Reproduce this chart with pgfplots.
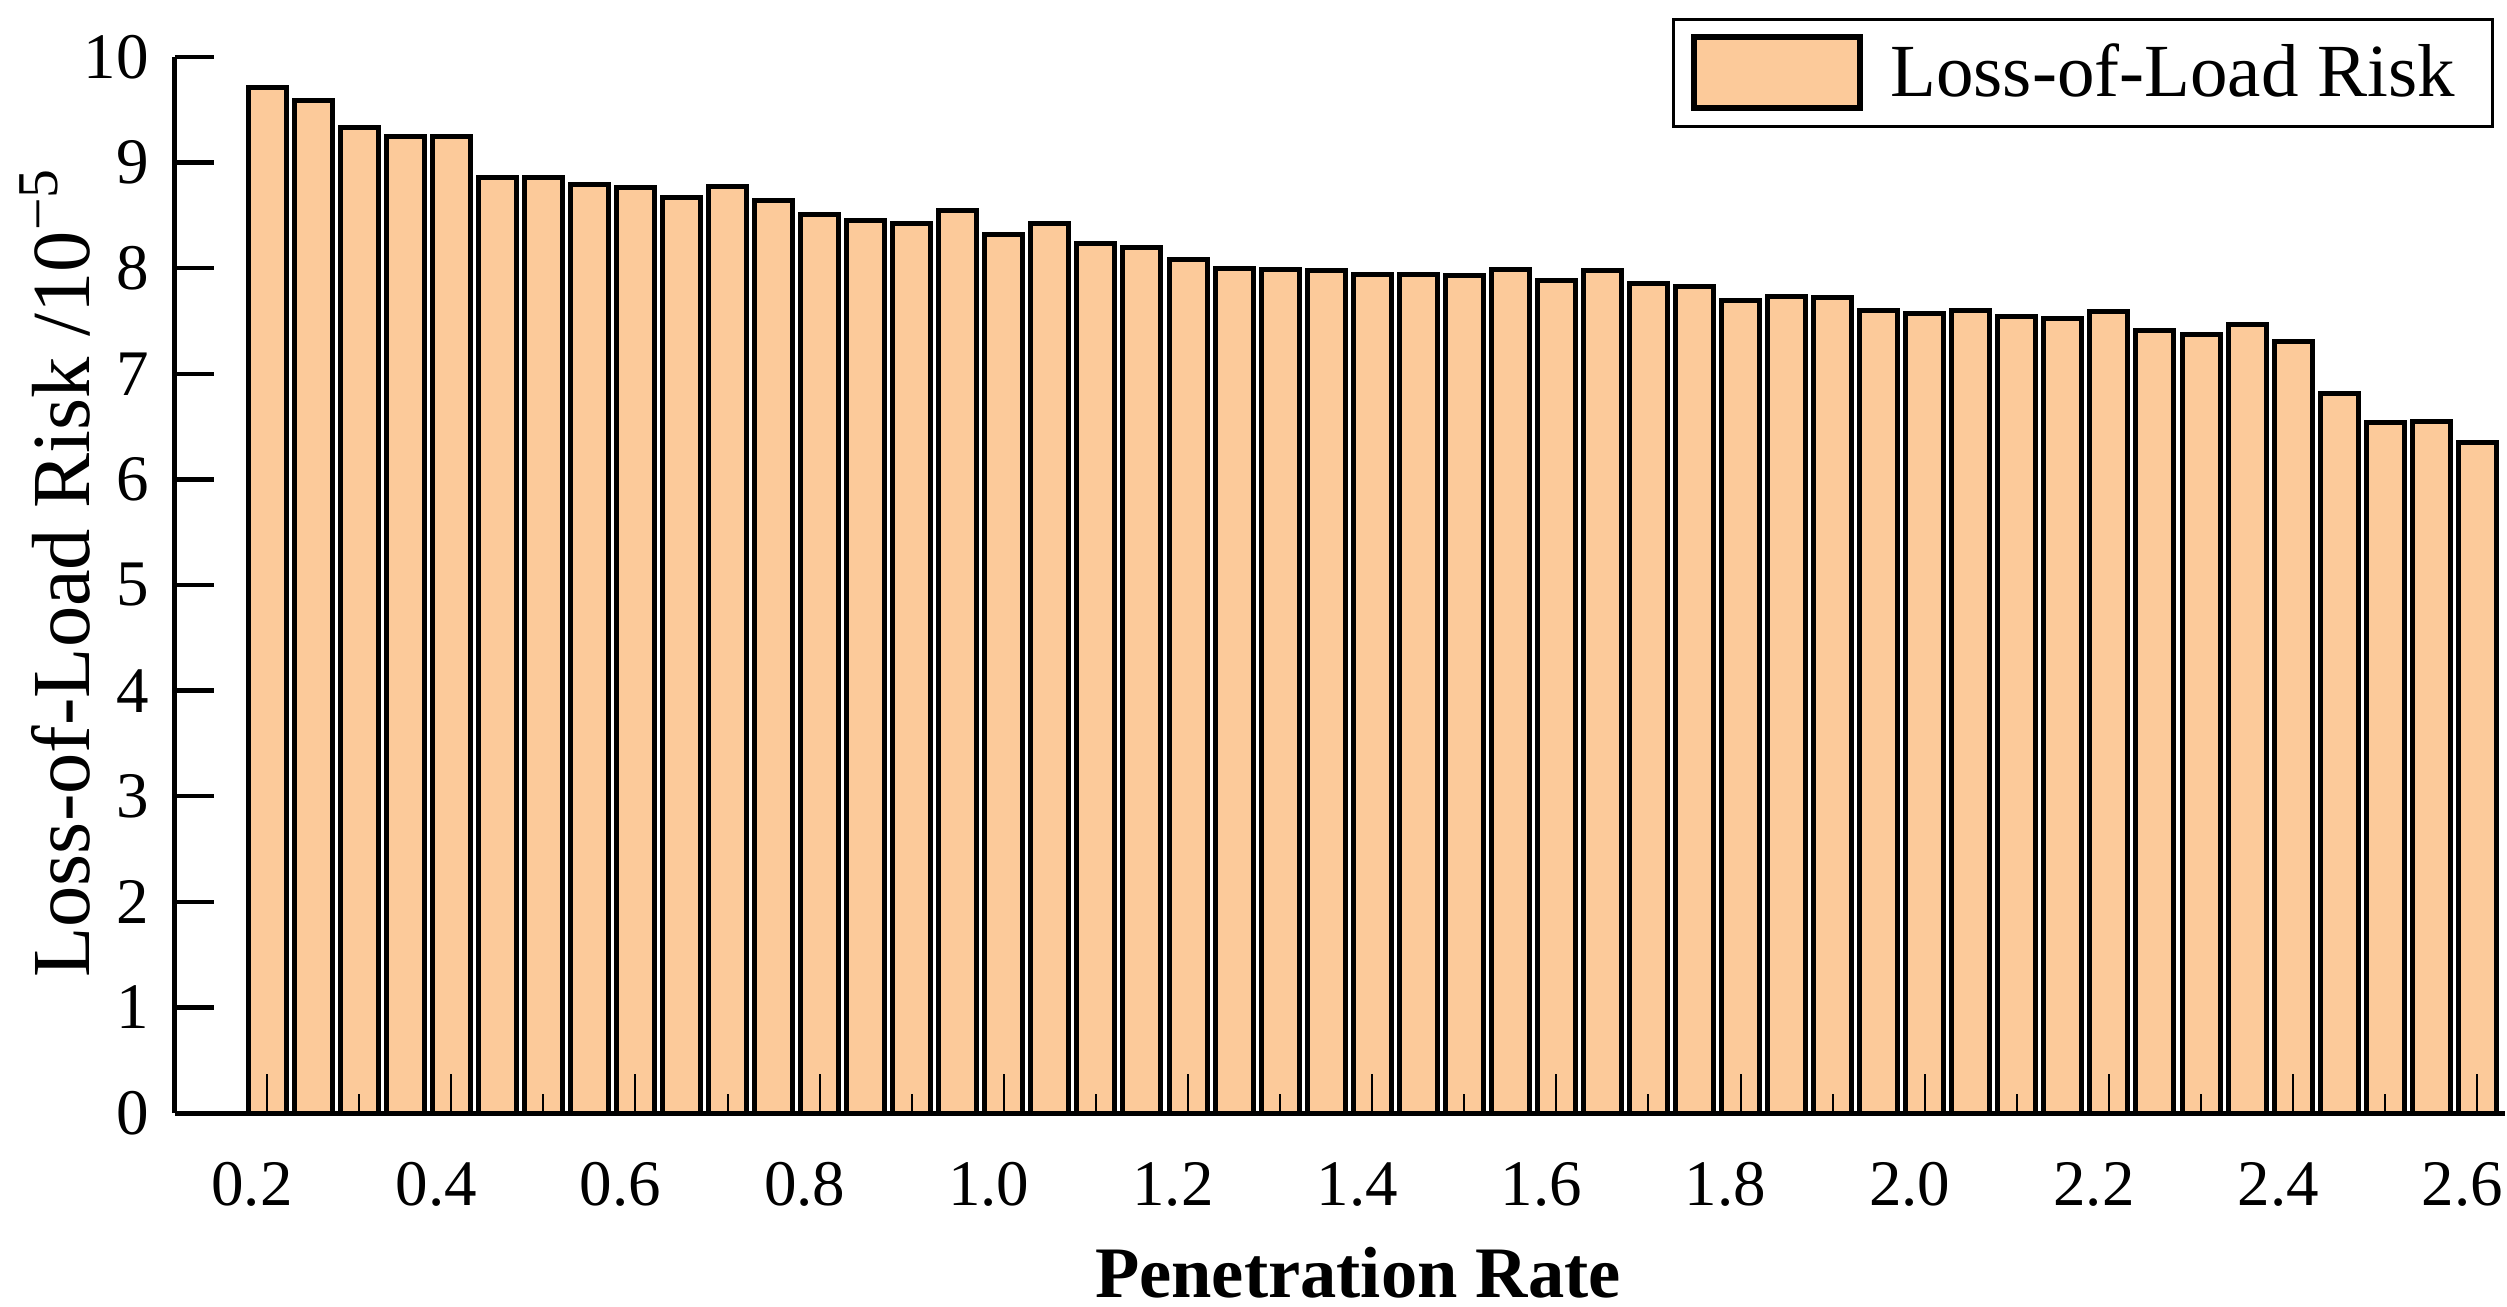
\documentclass[border=0pt]{standalone}
\usepackage{fontspec}
\setmainfont{Liberation Serif}
\usepackage{pgfplots}
\pgfplotsset{compat=1.18}
\usepackage{pgfplotstable}
\definecolor{barfill}{RGB}{252,202,154}

\pgfplotstableread{
rate risk
0.20 9.71
0.25 9.59
0.30 9.33
0.35 9.25
0.40 9.25
0.45 8.86
0.50 8.86
0.55 8.79
0.60 8.76
0.65 8.67
0.70 8.77
0.75 8.64
0.80 8.51
0.85 8.45
0.90 8.42
0.95 8.55
1.00 8.32
1.05 8.42
1.10 8.23
1.15 8.20
1.20 8.08
1.25 8.00
1.30 7.99
1.35 7.98
1.40 7.94
1.45 7.94
1.50 7.93
1.55 7.99
1.60 7.88
1.65 7.98
1.70 7.86
1.75 7.83
1.80 7.69
1.85 7.73
1.90 7.72
1.95 7.60
2.00 7.57
2.05 7.60
2.10 7.54
2.15 7.52
2.20 7.59
2.25 7.41
2.30 7.37
2.35 7.47
2.40 7.31
2.45 6.81
2.50 6.54
2.55 6.55
2.60 6.35
}\riskdata

\begin{document}
\begin{tikzpicture}
\begin{axis}[
    width=466pt, height=211.2pt, scale only axis,
    xmin=0.1, xmax=2.63, ymin=0, ymax=10,
    axis x line*=bottom, axis y line*=left,
    axis line style={line width=1pt},
    axis on top,
    tick align=inside,
    xtick pos=bottom, ytick pos=left,
    xtick={0.2,0.4,...,2.61},
    minor xtick={0.3,0.5,...,2.51},
    ytick={0,1,...,10},
    major tick length=7.8pt, minor tick length=3.8pt,
    x tick style={line width=0.4pt, black},
    y tick style={line width=0.9pt, black},
    /pgf/number format/assume math mode=true,
    xticklabel style={/pgf/number format/.cd, fixed, fixed zerofill, precision=1, /tikz/.cd, xshift=-3pt, yshift=-6.3pt},
    yticklabel style={xshift=-1.7pt},
    tick label style={font=\fontsize{13}{15}\selectfont},
    ylabel={Loss-of-Load Risk /10\textsuperscript{−5}},
    ylabel style={at={(axis description cs:-0.0369,0.512)}, anchor=base, font=\fontsize{16.5}{19}\selectfont},
    xlabel={Penetration Rate},
    xlabel style={at={(axis description cs:0.5077,-0.175)}, anchor=base, font=\fontsize{14.5}{17}\selectfont\bfseries},
    legend style={at={(axis description cs:0.9953,1.037)}, anchor=north east, draw=black, line width=0.6pt,
        font=\fontsize{15}{18}\selectfont, inner xsep=3.5pt, inner ysep=3pt,
        nodes={inner sep=0pt}, column sep=5.5pt},
    legend image code/.code={\draw[#1, line width=1.2pt] (0pt,-6.9pt) rectangle (33.2pt,7.3pt);},
]
\addplot[ybar, bar width=7.6pt, bar shift=0pt, fill=barfill, draw=black, line width=1pt]
    table[x=rate, y=risk] {\riskdata};
\addlegendentry{Loss-of-Load Risk\kern4pt}
\coordinate (bbsw) at (rel axis cs:-0.0751,-0.1837);
\coordinate (bbne) at (rel axis cs:1.0009,1.054);
\end{axis}
\pgfresetboundingbox
\path[use as bounding box] (bbsw) rectangle (bbne);
\end{tikzpicture}
\end{document}
